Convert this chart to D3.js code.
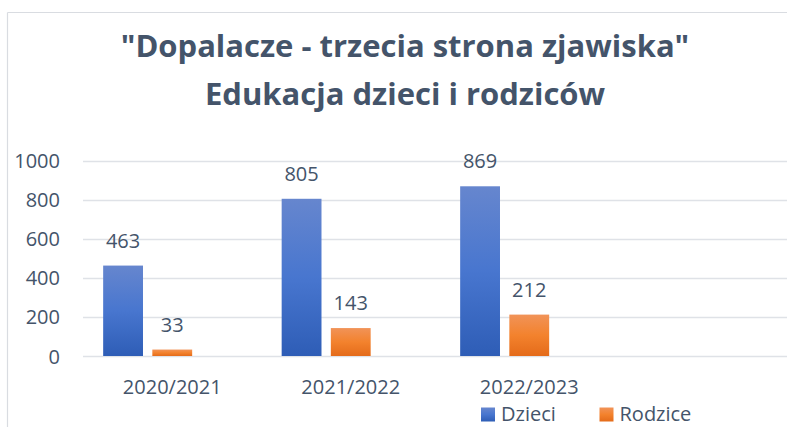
<!DOCTYPE html>
<html>
<head>
<meta charset="utf-8">
<script src="https://cdn.jsdelivr.net/npm/d3@7"></script>
<style>
  html, body { margin: 0; padding: 0; background: #fff; }
  svg { display: block; }
  text { font-family: "Open Sans", "Noto Sans", sans-serif; }
</style>
</head>
<body>
<svg id="chart" width="787" height="427"></svg>
<script>
// ---- data ----
const titleLines = ['"Dopalacze - trzecia strona zjawiska"', 'Edukacja dzieci i rodziców'];
const categories = ["2020/2021", "2021/2022", "2022/2023"];
const seriesNames = ["Dzieci", "Rodzice"];
const dzieci = [463, 805, 869];
const rodzice = [33, 143, 212];
const yTicks = [0, 200, 400, 600, 800, 1000];

// ---- layout ----
const W = 787, H = 427;
const textColor = "#44546A";
const gridColor = "#DFE2E7";
const fs = 20;
const svg = d3.select("#chart");

const defs = svg.append("defs");
function grad(id, stops) {
  const g = defs.append("linearGradient").attr("id", id)
    .attr("x1", 0).attr("y1", 0).attr("x2", 0).attr("y2", 1);
  stops.forEach(s => g.append("stop").attr("offset", s[0]).attr("stop-color", s[1]));
}
grad("gBlue", [[0, "#6686CE"], [0.5, "#4876CF"], [1, "#2E5DB6"]]);
grad("gOrange", [[0, "#F19358"], [0.5, "#F3822D"], [1, "#E46B1A"]]);
const fills = ["url(#gBlue)", "url(#gOrange)"];

// border of chart area
svg.append("line").attr("x1", 7.5).attr("x2", W).attr("y1", 12.5).attr("y2", 12.5)
  .attr("stroke", "#D9DCE1").attr("stroke-width", 1.2);
svg.append("line").attr("x1", 7.5).attr("x2", 7.5).attr("y1", 12.5).attr("y2", H)
  .attr("stroke", "#D9DCE1").attr("stroke-width", 1.2);

// title
svg.append("text").attr("x", 405).attr("y", 57).attr("text-anchor", "middle")
  .attr("font-size", 31).attr("font-weight", 700).attr("fill", textColor).text(titleLines[0]);
svg.append("text").attr("x", 405).attr("y", 105).attr("text-anchor", "middle")
  .attr("font-size", 31).attr("font-weight", 700).attr("fill", textColor).text(titleLines[1]);

// scales
const plotLeft = 83, band = 178.5;
const x0 = d3.scaleBand().domain(categories).range([plotLeft, plotLeft + band * categories.length]).padding(0);
const x1 = d3.scaleBand().domain([0, 1, 2]).range([0, x0.bandwidth()]).paddingInner(0.19).paddingOuter(0.41);
const y = d3.scaleLinear().domain([0, 1000]).range([356, 160.7]);

// gridlines
svg.append("g").selectAll("line").data(yTicks).join("line")
  .attr("x1", plotLeft).attr("x2", W)
  .attr("y1", d => Math.round(y(d)) + 0.5).attr("y2", d => Math.round(y(d)) + 0.5)
  .attr("stroke", gridColor).attr("stroke-width", 1.4);

// y axis labels
const yAxis = d3.axisLeft(y).tickValues(yTicks).tickSize(0).tickPadding(0).tickFormat(d3.format("d"));
const yg = svg.append("g").attr("transform", "translate(60,0)").call(yAxis);
yg.select(".domain").remove();
yg.selectAll("text").attr("font-family", '"Open Sans", sans-serif').attr("font-size", fs)
  .attr("fill", textColor).attr("dy", "0.35em");

// x axis labels
const xAxis = d3.axisBottom(x0).tickSize(0).tickPadding(0);
const xg = svg.append("g").attr("transform", "translate(0,394)").call(xAxis);
xg.select(".domain").remove();
xg.selectAll("text").attr("font-family", '"Open Sans", sans-serif').attr("font-size", fs)
  .attr("fill", textColor).attr("dy", 0).attr("y", 0);

// bars
const seriesData = [dzieci, rodzice];
seriesData.forEach((vals, si) => {
  const g = svg.append("g");
  const rows = categories.map((c, i) => ({ c, v: vals[i] }));
  g.selectAll("rect").data(rows).join("rect")
    .attr("x", d => x0(d.c) + x1(si))
    .attr("width", x1.bandwidth())
    .attr("y", d => y(d.v))
    .attr("height", d => y(0) - y(d.v))
    .attr("fill", fills[si]);
  g.selectAll("text").data(rows).join("text")
    .attr("x", d => x0(d.c) + x1(si) + x1.bandwidth() / 2)
    .attr("y", d => y(d.v) - 18)
    .attr("text-anchor", "middle")
    .attr("font-size", fs).attr("fill", textColor)
    .text(d => d.v);
});

// legend
const legendX = [481, 599.5];
seriesNames.forEach((name, i) => {
  svg.append("rect").attr("x", legendX[i]).attr("y", 407.5).attr("width", 14).attr("height", 14)
    .attr("fill", fills[i]);
  svg.append("text").attr("x", legendX[i] + 20).attr("y", 421)
    .attr("font-size", fs).attr("fill", textColor).text(name);
});
</script>
</body>
</html>
